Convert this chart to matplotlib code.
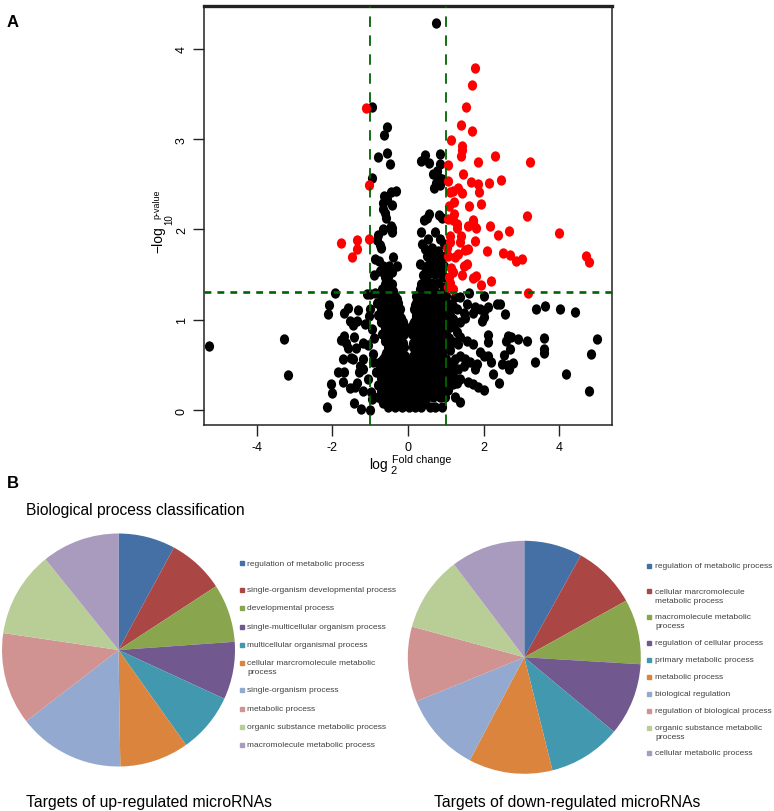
import numpy as np
import matplotlib
matplotlib.use('Agg')
import matplotlib.pyplot as plt
from matplotlib.path import Path
from matplotlib.transforms import Affine2D

plt.rcParams['font.family'] = ['Liberation Sans', 'DejaVu Sans']

# volcano plot values as (log2 fold change, -log10 p)
red_up = [(1.78, 3.79), (1.70, 3.60), (1.54, 3.36), (1.40, 3.16), (1.70, 3.09), (1.13, 2.99),
          (1.43, 2.92), (1.44, 2.88), (1.40, 2.81), (2.30, 2.81), (1.85, 2.75), (3.23, 2.75),
          (1.05, 2.71), (1.46, 2.62), (1.05, 2.54), (1.67, 2.53), (1.84, 2.50), (2.15, 2.52),
          (2.46, 2.55), (1.33, 2.46), (1.20, 2.43), (1.11, 2.41), (1.43, 2.40), (1.88, 2.42),
          (1.23, 2.31), (1.09, 2.26), (1.62, 2.26), (1.93, 2.28), (1.22, 2.17), (3.16, 2.15),
          (1.73, 2.10), (1.07, 2.12), (1.20, 2.10), (1.31, 2.06), (1.29, 2.02), (1.60, 2.04),
          (1.73, 2.08), (1.79, 2.02), (2.16, 2.04), (2.39, 1.94), (2.68, 1.98), (4.00, 1.96),
          (4.70, 1.71), (4.80, 1.64), (3.02, 1.67), (2.87, 1.65), (2.70, 1.72), (2.52, 1.74),
          (2.10, 1.76), (1.77, 1.87), (1.60, 1.78), (1.51, 1.77), (1.40, 1.93), (1.38, 1.86),
          (1.11, 1.93), (1.11, 1.86), (1.03, 1.80), (1.33, 1.73), (1.25, 1.69), (1.07, 1.71),
          (1.55, 1.62), (1.47, 1.60), (1.44, 1.50), (1.13, 1.57), (1.18, 1.53), (1.09, 1.47),
          (1.80, 1.49), (1.71, 1.46), (1.94, 1.39), (2.19, 1.43), (1.11, 1.41), (1.07, 1.36),
          (1.18, 1.34), (3.17, 1.30)]
red_down = [(-1.10, 3.35), (-1.03, 2.49), (-1.78, 1.85), (-1.36, 1.88), (-1.34, 1.78),
            (-1.49, 1.70), (-1.03, 1.89)]

black_upper = [(0.75, 4.29), (-0.95, 3.36), (-0.56, 3.13), (-0.64, 3.05), (-0.56, 2.85), (-0.79, 2.80),
               (-0.47, 2.73), (-0.94, 2.57), (0.45, 2.83), (0.34, 2.76), (0.56, 2.74), (0.86, 2.84),
               (0.85, 2.73), (0.78, 2.65), (0.67, 2.61), (0.80, 2.58), (0.89, 2.56), (0.74, 2.52),
               (0.85, 2.49), (0.69, 2.46), (-0.33, 2.43), (-0.46, 2.42), (-0.63, 2.37), (-0.56, 2.34),
               (-0.65, 2.29), (-0.43, 2.27), (-0.65, 2.23), (-0.61, 2.18), (-0.58, 2.13), (0.56, 2.17),
               (0.49, 2.13), (0.42, 2.10), (0.82, 2.16), (0.89, 2.13), (-0.65, 2.01), (-0.44, 2.04),
               (-0.67, 1.99), (-0.42, 2.02), (-0.42, 1.97), (-0.79, 1.94), (-0.83, 1.88), (-0.72, 1.79),
               (-0.75, 1.83), (0.34, 1.97), (0.36, 1.84), (0.54, 1.89), (0.72, 1.97), (0.85, 1.89),
               (0.63, 1.80), (0.45, 1.78), (0.80, 1.76), (0.94, 1.84), (0.98, 1.71), (0.50, 1.71),
               (0.67, 1.69), (0.85, 1.67), (0.32, 1.62), (0.45, 1.58), (0.63, 1.60), (0.80, 1.58),
               (0.94, 1.60), (0.54, 1.51), (0.72, 1.51), (0.89, 1.51), (0.63, 1.41), (0.80, 1.41),
               (0.92, 1.47), (0.34, 1.40), (0.32, 1.34), (0.98, 1.36), (0.93, 1.32), (-0.87, 1.67),
               (-0.76, 1.65), (-0.41, 1.70), (-0.65, 1.60), (-0.50, 1.60), (-0.30, 1.59), (-0.90, 1.50),
               (-0.74, 1.54), (-0.43, 1.53), (-0.52, 1.47), (-0.61, 1.40), (-0.43, 1.40), (-0.70, 1.34),
               (-1.09, 1.29), (-1.01, 1.29), (-0.88, 1.30), (-0.56, 1.30), (-0.39, 1.32),
               (0.45, 1.45), (0.52, 1.35), (0.70, 1.33), (0.40, 1.50), (0.72, 1.62), (0.56, 1.62),
               (-0.55, 1.52), (-0.60, 1.47), (-0.50, 1.36), (-0.62, 1.30)]

black_left = [(-5.27, 0.71), (-3.28, 0.79), (-3.17, 0.39), (-1.92, 1.30), (-2.08, 1.16), (-2.12, 1.06),
              (-1.59, 1.13), (-1.70, 1.07), (-1.33, 1.11), (-1.54, 0.99), (-1.36, 0.99), (-1.45, 0.94),
              (-1.14, 0.95), (-1.03, 1.04), (-1.70, 0.82), (-1.77, 0.78), (-1.43, 0.81), (-1.64, 0.74),
              (-1.60, 0.69), (-1.38, 0.69), (-1.18, 0.74), (-1.05, 0.72), (-1.73, 0.56), (-1.52, 0.58),
              (-1.45, 0.56), (-1.20, 0.57), (-1.27, 0.49), (-1.18, 0.45), (-1.84, 0.42), (-1.70, 0.42),
              (-1.30, 0.42), (-1.06, 0.34), (-2.03, 0.29), (-1.71, 0.31), (-1.36, 0.30), (-1.54, 0.24),
              (-1.40, 0.25), (-2.00, 0.19), (-1.18, 0.21), (-1.42, 0.08), (-2.14, 0.03), (-1.24, 0.01),
              (-1.01, 0.00), (-0.92, 0.62), (-0.92, 0.53), (-0.95, 0.90), (-0.90, 0.80), (-0.98, 0.20),
              (-0.95, 0.12), (-1.00, 1.12)]

black_right = [(1.62, 1.30), (2.00, 1.26), (2.44, 1.18), (2.36, 1.17), (2.58, 1.06), (3.38, 1.12),
               (3.63, 1.15), (4.03, 1.12), (4.41, 1.09), (2.12, 1.14), (2.00, 1.10), (1.91, 1.12),
               (1.77, 1.14), (1.55, 1.18), (1.71, 1.08), (1.95, 0.99), (2.01, 1.03), (1.38, 1.25),
               (1.24, 1.25), (1.29, 1.12), (1.47, 1.08), (1.20, 1.01), (1.38, 0.97), (1.51, 1.02),
               (1.29, 0.86), (1.38, 0.81), (1.55, 0.77), (1.73, 0.73), (1.33, 0.73), (2.13, 0.83),
               (2.11, 0.75), (2.66, 0.82), (2.72, 0.81), (2.92, 0.79), (2.60, 0.77), (3.14, 0.76),
               (3.61, 0.80), (5.00, 0.79), (3.61, 0.68), (3.59, 0.63), (4.84, 0.62), (3.36, 0.53),
               (4.18, 0.40), (4.80, 0.21), (2.70, 0.68), (2.54, 0.61), (1.91, 0.64), (2.00, 0.60),
               (2.13, 0.60), (2.19, 0.53), (2.79, 0.52), (2.66, 0.50), (2.48, 0.51), (2.68, 0.45),
               (2.26, 0.40), (2.41, 0.30), (2.02, 0.22), (1.86, 0.26), (1.73, 0.29), (1.60, 0.31),
               (1.77, 0.45), (1.82, 0.51), (1.64, 0.53), (1.51, 0.56), (1.38, 0.60), (1.25, 0.56),
               (1.47, 0.49), (1.33, 0.45), (1.20, 0.49), (1.20, 0.38), (1.38, 0.34), (1.20, 0.29),
               (1.07, 0.22), (1.25, 0.14), (1.38, 0.09), (1.10, 1.18), (1.12, 0.92), (1.10, 0.66),
               (1.12, 0.40), (1.08, 0.80), (1.20, 1.15), (1.25, 0.95), (1.10, 1.05), (1.22, 0.75),
               (1.15, 0.50), (1.30, 0.30), (1.05, 0.30)]

# the solid middle of the cloud, row by row
dense_y = [0.03, 0.08, 0.14, 0.21, 0.28, 0.35, 0.42, 0.49, 0.56, 0.63, 0.70, 0.77, 0.84, 0.91, 0.98, 1.05, 1.12, 1.19, 1.26]
dense_x = [[-0.52, -0.34, -0.16, 0.02, 0.18, 0.34, 0.58, 0.72, 0.89],
           [-0.66, -0.44, -0.25, -0.07, 0.10, 0.27, 0.40],
           [-0.80, -0.60, -0.42, -0.23, -0.05, 0.13, 0.31, 0.49, 0.67, 0.84, 0.98],
           [-0.71, -0.53, -0.34, -0.16, 0.03, 0.20, 0.38, 0.56, 0.73, 0.91],
           [-0.80, -0.62, -0.44, -0.25, -0.07, 0.11, 0.29, 0.46, 0.64, 0.83, 1.00],
           [-0.72, -0.52, -0.35, -0.17, 0.02, 0.20, 0.37, 0.55, 0.74, 0.92],
           [-0.84, -0.62, -0.43, -0.26, -0.08, 0.10, 0.29, 0.47, 0.65, 0.82, 1.02],
           [-0.74, -0.54, -0.35, -0.17, 0.01, 0.19, 0.38, 0.55, 0.72, 0.92],
           [-0.67, -0.45, -0.27, -0.08, 0.12, 0.28, 0.46, 0.64, 0.83, 1.00],
           [-0.58, -0.36, -0.17, 0.20, 0.37, 0.56, 0.73, 0.91],
           [-0.52, -0.44, -0.27, -0.11, 0.13, 0.29, 0.47, 0.65, 0.82, 1.02],
           [-0.60, -0.36, -0.18, 0.19, 0.37, 0.55, 0.72, 0.92],
           [-0.70, -0.45, -0.27, -0.10, 0.11, 0.28, 0.46, 0.64, 0.83, 1.01],
           [-0.60, -0.36, -0.18, 0.02, 0.20, 0.38, 0.55, 0.73, 0.91],
           [-0.72, -0.52, -0.28, -0.13, 0.17, 0.30, 0.47, 0.64, 0.82, 1.00],
           [-0.80, -0.61, -0.44, -0.25, 0.22, 0.38, 0.56, 0.73, 0.91],
           [-0.71, -0.52, -0.34, -0.20, 0.17, 0.29, 0.47, 0.65, 0.82, 1.02],
           [-0.83, -0.62, -0.44, -0.27, 0.22, 0.38, 0.55, 0.72, 0.90],
           [-0.71, -0.52, -0.35, 0.20, 0.29, 0.46, 0.65, 0.82, 1.00]]

# more dots between those rows, where the reference has no gaps
fill_y = [0.11, 0.18, 0.25, 0.32, 0.39, 0.46, 0.53, 0.60, 0.67, 0.74, 0.81, 0.88, 0.95, 1.02, 1.09, 1.16, 1.23]
fill_x = [[-0.70, -0.51, -0.32, -0.14, 0.06, 0.24, 0.44],
          [-0.62, -0.43, -0.25, -0.07, 0.11, 0.30, 0.47, 0.65, 0.83],
          [-0.72, -0.53, -0.34, -0.16, 0.03, 0.21, 0.39, 0.57, 0.75, 0.92],
          [-0.63, -0.44, -0.26, -0.08, 0.12, 0.30, 0.48, 0.66, 0.84],
          [-0.72, -0.53, -0.35, -0.17, 0.03, 0.21, 0.39, 0.57, 0.74, 0.93],
          [-0.64, -0.45, -0.26, -0.08, 0.11, 0.30, 0.47, 0.66, 0.83],
          [-0.73, -0.54, -0.36, -0.17, 0.03, 0.20, 0.38, 0.56, 0.74, 0.92],
          [-0.62, -0.45, -0.26, -0.09, 0.12, 0.28, 0.47, 0.65, 0.83],
          [-0.54, -0.36, -0.18, 0.18, 0.37, 0.55, 0.73, 0.92],
          [-0.53, -0.45, -0.26, -0.12, 0.12, 0.28, 0.46, 0.64, 0.82],
          [-0.62, -0.36, -0.18, 0.20, 0.37, 0.55, 0.73, 0.91],
          [-0.54, -0.44, -0.26, -0.10, 0.11, 0.29, 0.47, 0.65, 0.83],
          [-0.63, -0.36, -0.18, 0.13, 0.20, 0.38, 0.56, 0.73, 0.91],
          [-0.71, -0.52, -0.34, -0.18, 0.20, 0.30, 0.47, 0.65, 0.82],
          [-0.62, -0.44, -0.27, 0.26, 0.38, 0.56, 0.74, 0.92],
          [-0.72, -0.52, -0.35, 0.18, 0.30, 0.47, 0.64, 0.82],
          [-0.61, -0.44, -0.28, 0.28, 0.38, 0.55, 0.73, 0.90]]

x_ticks = [-4, -2, 0, 2, 4]
y_ticks = [0, 1, 2, 3, 4]

# pie shares, taken from the slice angles
up_shares = [7.9, 7.9, 8.1, 8.0, 8.3, 9.6, 14.8, 12.8, 11.9, 10.8]
down_shares = [8.06, 8.86, 9.03, 10.08, 10.08, 11.64, 11.08, 10.42, 10.44, 10.31]
pie_colors = ['#4470A6', '#AA4643', '#89A54E', '#71588F', '#4198AF',
              '#DB843D', '#93A9CF', '#D19392', '#B9CD96', '#A99BBD']

up_labels = ['regulation of metabolic process', 'single-organism developmental process',
             'developmental process', 'single-multicellular organism process',
             'multicellular organismal process', 'cellular marcromolecule metabolic\nprocess',
             'single-organism process', 'metabolic process',
             'organic substance metabolic process', 'macromolecule metabolic process']
down_labels = ['regulation of metabolic process', 'cellular marcromolecule\nmetabolic process',
               'macromolecule metabolic\nprocess', 'regulation of cellular process',
               'primary metabolic process', 'metabolic process', 'biological regulation',
               'regulation of biological process', 'organic substance metabolic\nprocess',
               'cellular metabolic process']

W, H = 774, 812
fig = plt.figure(figsize=(W / 100, H / 100), dpi=100)


def px_axes(left, top, right, bottom):
    return fig.add_axes([left / W, 1 - bottom / H, (right - left) / W, (bottom - top) / H])


def px_text(x, y, s, **kw):
    fig.text(x / W, 1 - y / H, s, **kw)


# panel A, dots are a little taller than wide in the reference
oval = Path.unit_circle().transformed(Affine2D().scale(0.92, 1.04))
ax = px_axes(204, 7, 612, 426)
dense = [(x, y) for y, row in zip(dense_y, dense_x) for x in row]
fill = [(x, y) for y, row in zip(fill_y, fill_x) for x in row]
black = np.array(black_upper + black_left + black_right + dense + fill)
red = np.array(red_up + red_down)
ax.scatter(black[:, 0], black[:, 1], s=56, c='black', marker=oval, linewidths=0, zorder=2, clip_on=False)
ax.scatter(red[:, 0], red[:, 1], s=56, c='#FF0000', marker=oval, linewidths=0, zorder=3, clip_on=False)

green = '#006400'
for xv in [-1, 1]:
    ax.axvline(xv, color=green, lw=1.3, dashes=(5.8, 4.7), zorder=4)
ax.axhline(1.307, color=green, lw=1.9, dashes=(2.6, 2.3), zorder=4)

ax.set_xlim(-5.40, 5.40)
ax.set_ylim(-0.166, 4.476)
ax.set_xticks(x_ticks)
ax.set_yticks(y_ticks)
ax.set_xticklabels([str(v) for v in x_ticks])
ax.set_yticklabels([str(v) for v in y_ticks], rotation=90, va='center')
ax.tick_params(length=8, width=1, labelsize=9, color='#222222', pad=3.6)
for side in ax.spines:
    ax.spines[side].set_linewidth(1.1)
    ax.spines[side].set_color('#222222')
ax.spines['top'].set_linewidth(2.4)

px_text(388, 469, 'log', fontsize=10, ha='right', va='baseline')
px_text(390, 474, '2', fontsize=8, ha='left', va='baseline')
px_text(392, 463, 'Fold change', fontsize=7.7, ha='left', va='baseline')
px_text(158, 239.5, '\u2212log', fontsize=10, rotation=90, ha='center', va='center')
px_text(169, 220, '10', fontsize=7, rotation=90, ha='center', va='center')
px_text(156.5, 204, 'p-value', fontsize=6.4, rotation=90, ha='center', va='center')

px_text(7, 27, 'A', fontsize=12, fontweight='bold')
px_text(7, 488, 'B', fontsize=12, fontweight='bold')

# panel B
px_text(26, 515, 'Biological process classification', fontsize=11.25)
px_text(26, 807, 'Targets of up-regulated microRNAs', fontsize=11.3)
px_text(434, 807, 'Targets of down-regulated microRNAs', fontsize=11.3)


def draw_pie(cx, cy, radius, shares):
    pie_ax = px_axes(cx - radius, cy - radius, cx + radius, cy + radius)
    pie_ax.pie(shares, colors=pie_colors, startangle=90, counterclock=False, radius=1,
               wedgeprops={'linewidth': 0})
    pie_ax.set_xlim(-1, 1)
    pie_ax.set_ylim(-1, 1)


def draw_legend(x_box, x_text, rows, labels):
    for y, label, color in zip(rows, labels, pie_colors):
        fig.patches.append(plt.Rectangle((x_box / W, 1 - (y + 2) / H), 4 / W, 4 / H, color=color,
                                         transform=fig.transFigure))
        lines = label.split('\n')
        for i, line in enumerate(lines):
            px_text(x_text, y + i * 9, line, fontsize=6.05, color='#404040', va='center')


draw_pie(118.5, 651, 116.5, up_shares)
draw_pie(524.3, 658.3, 116.5, down_shares)
draw_legend(240, 247, [564, 591, 609, 627.5, 645.5, 664, 691, 709.5, 728, 746], up_labels)
draw_legend(647, 655, [567, 592.3, 618, 643.7, 660.7, 677.7, 694.7, 711.7, 728.7, 754], down_labels)

fig.savefig('out.png', dpi=100)
